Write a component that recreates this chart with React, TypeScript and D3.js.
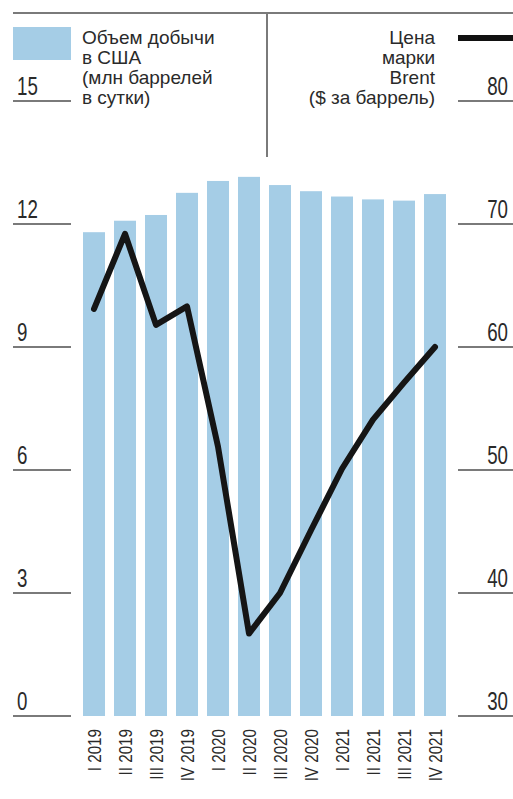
import React from 'react';
import * as d3 from 'd3';

const quarters = [
  'I 2019', 'II 2019', 'III 2019', 'IV 2019',
  'I 2020', 'II 2020', 'III 2020', 'IV 2020',
  'I 2021', 'II 2021', 'III 2021', 'IV 2021',
];
// US production, mln barrels per day
const production = [11.8, 12.08, 12.22, 12.76, 13.05, 13.15, 12.95, 12.8, 12.67, 12.6, 12.57, 12.73];
// Brent price, $ per barrel
const brent = [63.1, 69.2, 61.8, 63.3, 51.9, 36.7, 40.0, 45.1, 50.1, 54.1, 57.1, 60.0];

const leftTicks = [0, 3, 6, 9, 12, 15];
const rightTicks = [30, 40, 50, 60, 70, 80];
const leftLegend = ['Объем добычи', 'в США', '(млн баррелей', 'в сутки)'];
const rightLegend = ['Цена', 'марки', 'Brent', '($ за баррель)'];

const W = 513;
const H = 799;
const barColor = '#a5cde6';
const axisColor = '#7a7a7a';
const textColor = '#2a2a2a';
const sans = '"Liberation Sans", Arial, sans-serif';

const App = () => {
  const x = d3.scaleBand<string>().domain(quarters).range([83, 446]).paddingInner(0.29).paddingOuter(0);
  const yL = d3.scaleLinear().domain([0, 15]).range([716, 101]);
  const yR = d3.scaleLinear().domain([30, 80]).range([716, 101]);

  const line = d3
    .line<number>()
    .x((_, i) => (x(quarters[i]) as number) + x.bandwidth() / 2)
    .y((d) => yR(d));

  return (
    <svg width={W} height={H} style={{ position: 'absolute', left: 0, top: 0, background: '#fff' }}>
      {/* header rule and divider */}
      <line x1={13} x2={W} y1={13} y2={13} stroke={axisColor} strokeWidth={2} />
      <line x1={267} x2={267} y1={13} y2={157} stroke={axisColor} strokeWidth={2} />

      {/* legend */}
      <rect x={13} y={27} width={58} height={33} fill={barColor} />
      {leftLegend.map((t, i) => (
        <text key={t} x={82} y={44 + i * 20} fontFamily={sans} fontSize={19} fill={textColor}>
          {t}
        </text>
      ))}
      {rightLegend.map((t, i) => (
        <text key={t} x={435} y={44 + i * 20} textAnchor="end" fontFamily={sans} fontSize={19} fill={textColor}>
          {t}
        </text>
      ))}
      <line x1={458} x2={W} y1={38} y2={38} stroke="#111" strokeWidth={6} />

      {/* bars */}
      {production.map((v, i) => (
        <rect
          key={quarters[i]}
          x={x(quarters[i])}
          y={yL(v)}
          width={x.bandwidth()}
          height={yL(0) - yL(v)}
          fill={barColor}
        />
      ))}

      {/* left axis */}
      {leftTicks.map((t) => (
        <g key={'l' + t}>
          <line x1={13} x2={71} y1={yL(t)} y2={yL(t)} stroke={axisColor} strokeWidth={2} />
          <text
            transform={`translate(17,${yL(t) - 6}) scale(0.72,1)`}
            fontFamily={sans}
            fontSize={26}
            fill={textColor}
          >
            {t}
          </text>
        </g>
      ))}

      {/* right axis */}
      {rightTicks.map((t) => (
        <g key={'r' + t}>
          <line x1={458} x2={W} y1={yR(t)} y2={yR(t)} stroke={axisColor} strokeWidth={2} />
          <text
            transform={`translate(508,${yR(t) - 6}) scale(0.72,1)`}
            textAnchor="end"
            fontFamily={sans}
            fontSize={26}
            fill={textColor}
          >
            {t}
          </text>
        </g>
      ))}

      {/* brent line */}
      <path
        d={line(brent) || ''}
        fill="none"
        stroke="#151515"
        strokeWidth={6}
        strokeLinejoin="round"
        strokeLinecap="round"
      />

      {/* quarter labels */}
      {quarters.map((q) => {
        const cx = (x(q) as number) + x.bandwidth() / 2 + 7;
        return (
          <text
            key={'q' + q}
            transform={`translate(${cx},729) rotate(-90) scale(0.8,1)`}
            textAnchor="end"
            fontFamily={sans}
            fontSize={19}
            fill={textColor}
          >
            {q}
          </text>
        );
      })}
    </svg>
  );
};

export default App;
